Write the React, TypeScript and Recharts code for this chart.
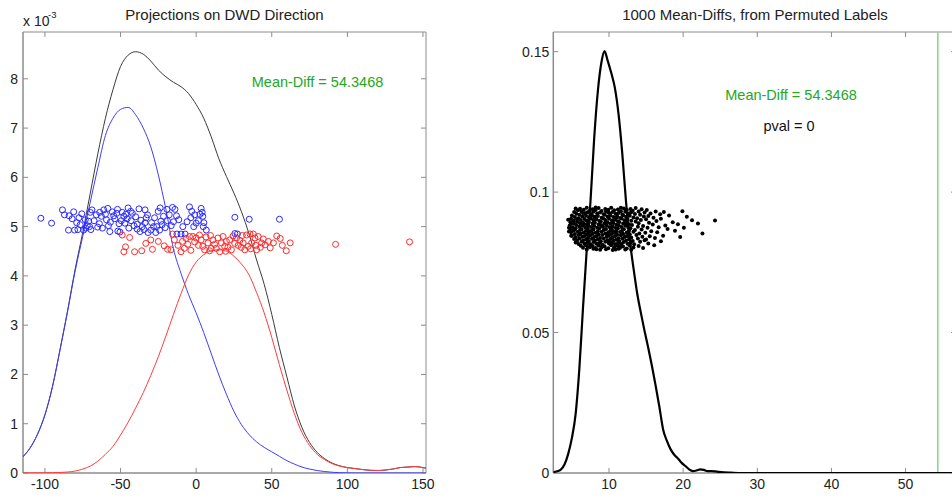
import React from 'react';
import { ComposedChart, Line, Scatter, XAxis, YAxis, ReferenceLine } from 'recharts';

// ---------- Left panel: projections on DWD direction (density in units of 1e-3) ----------
const projGrid = [-114.5, -110, -105, -100, -95, -90, -85, -80, -75, -70, -65, -60, -55, -50, -45, -40, -35, -30, -25, -20, -15, -10, -5, 0, 5, 10, 15, 20, 25, 30, 35, 40, 45, 50, 55, 60, 65, 70, 75, 80, 85, 90, 95, 100, 105, 110, 115, 120, 125, 130, 135, 140, 145, 150, 152];
const blueDensity = [0.33, 0.5, 0.78, 1.18, 1.75, 2.5, 3.28, 4.1, 4.8, 5.5, 6.2, 6.85, 7.2, 7.38, 7.42, 7.27, 7.0, 6.62, 6.05, 5.35, 4.55, 4.05, 3.62, 3.25, 2.85, 2.42, 1.99, 1.6, 1.25, 0.98, 0.78, 0.63, 0.52, 0.43, 0.34, 0.25, 0.18, 0.12, 0.08, 0.05, 0.03, 0.015, 0.006, 0.002, 0, 0, 0, 0, 0, 0, 0, 0, 0, 0, 0];
const redDensity = [0.003, 0.003, 0.004, 0.005, 0.007, 0.01, 0.02, 0.04, 0.08, 0.14, 0.24, 0.38, 0.54, 0.77, 1.03, 1.32, 1.63, 1.98, 2.36, 2.78, 3.22, 3.64, 4.02, 4.28, 4.43, 4.51, 4.53, 4.5, 4.4, 4.24, 4.02, 3.66, 3.25, 2.75, 2.2, 1.68, 1.2, 0.82, 0.56, 0.38, 0.27, 0.19, 0.14, 0.11, 0.09, 0.07, 0.055, 0.05, 0.06, 0.08, 0.11, 0.12, 0.13, 0.11, 0.1];
const totalDensity = [0.33, 0.5, 0.78, 1.18, 1.76, 2.51, 3.3, 4.14, 4.88, 5.68, 6.48, 7.2, 7.78, 8.25, 8.48, 8.55, 8.5, 8.36, 8.18, 8.04, 7.93, 7.84, 7.7, 7.48, 7.2, 6.82, 6.38, 6.02, 5.68, 5.3, 4.85, 4.32, 3.83, 3.22, 2.55, 1.95, 1.36, 0.92, 0.62, 0.42, 0.29, 0.2, 0.145, 0.11, 0.09, 0.07, 0.055, 0.05, 0.06, 0.08, 0.11, 0.12, 0.13, 0.11, 0.1];

const bluePoints: [number, number][] = [
  [-102.7, 5.17], [-95.6, 5.07], [-88.4, 5.34], [-87.1, 5.24], [-84, 5.22], [-84.4, 4.93], [-82, 5.16], [-81, 5.3], [-80.4, 4.93], [-79, 5.08],
  [-78.2, 4.94], [-77.5, 5.18], [-76.7, 5.04], [-75.6, 5.26], [-74.4, 4.93], [-73.3, 5.14], [-73, 4.97], [-72, 5.02], [-71.1, 5.11], [-70.5, 5.0],
  [-70, 5.29], [-69.6, 4.94], [-68.9, 5.34], [-67.5, 5.12], [-66, 5.24], [-65.1, 4.99], [-64, 5.06], [-63.8, 5.29], [-62.7, 5.21], [-62, 4.97],
  [-61.1, 5.34], [-60, 5.25], [-59.3, 5.14], [-58.4, 5.37], [-58, 5.02], [-57.1, 4.9], [-56.7, 5.09], [-55.5, 5.3], [-54.5, 5.22], [-53.8, 5.16],
  [-52.5, 5.27], [-52, 5.35], [-51.8, 4.91], [-51, 5.06], [-50.4, 4.89], [-49.5, 5.12], [-48.9, 5.29], [-47.8, 5.21], [-47.1, 5.07], [-46.5, 5.25],
  [-45.6, 5.16], [-45, 5.38], [-44.5, 4.97], [-43.3, 5.31], [-43, 5.12], [-42.2, 5.27], [-41.1, 5.02], [-40, 5.2], [-39, 4.95], [-38.9, 5.05],
  [-37.8, 5.36], [-37.1, 4.9], [-36.5, 5.13], [-35.6, 5.0], [-34.5, 4.94], [-33.8, 5.08], [-33.8, 5.34], [-33, 5.18], [-32.2, 5.24], [-31.8, 4.88],
  [-30, 4.93], [-29.5, 5.08], [-28.2, 5.0], [-27.5, 5.18], [-26.7, 4.88], [-26, 5.0], [-25.1, 5.31], [-24.2, 4.93], [-23.8, 5.38], [-23.3, 5.11],
  [-22.5, 5.04], [-21.6, 5.21], [-20.5, 4.98], [-19.3, 5.35], [-19, 5.12], [-17.8, 5.24], [-16.5, 5.02], [-15.6, 5.39], [-15, 5.1], [-14, 5.35],
  [-13, 5.22], [-12.7, 4.85], [-11.5, 5.14], [-10, 4.85], [-8.8, 5.0], [-7.3, 4.85], [-6, 5.1], [-4.4, 5.4], [-3.5, 5.18], [-2.9, 5.31],
  [-1.6, 5.0], [-1, 5.24], [0, 5.07], [1.5, 5.12], [2.5, 5.25], [3.3, 5.37], [4, 5.29], [4.4, 5.21], [5.1, 5.08], [4.7, 5.0],
  [6.7, 4.93], [25.6, 5.19], [25.6, 4.86], [27.3, 4.85], [35.1, 5.15], [55.1, 5.15]
];

const redPoints: [number, number][] = [
  [-48.9, 4.83], [-47.8, 4.49], [-46.7, 4.59], [-44, 4.78], [-40.7, 4.49], [-36, 4.51], [-33.3, 4.66], [-30, 4.73], [-28.9, 4.54], [-25, 4.7],
  [-21.1, 4.61], [-18.9, 4.54], [-16.7, 4.53], [-15.6, 4.85], [-14.4, 4.73], [-12, 4.62], [-10, 4.49], [-9, 4.7], [-7.8, 4.56], [-6.7, 4.76],
  [-5.5, 4.64], [-4.4, 4.8], [-3.5, 4.52], [-2.2, 4.8], [-1, 4.69], [0, 4.77], [1.5, 4.62], [2.2, 4.83], [3.3, 4.73], [4.4, 4.6],
  [5.6, 4.53], [6.5, 4.79], [7.8, 4.67], [8.9, 4.51], [9.5, 4.82], [10, 4.56], [11.1, 4.73], [12.2, 4.64], [13.3, 4.56], [14.4, 4.77],
  [15.6, 4.49], [16.7, 4.67], [17.8, 4.8], [18.9, 4.6], [19.5, 4.5], [20, 4.7], [21, 4.58], [22.2, 4.73], [23.3, 4.53], [24.4, 4.81],
  [25.5, 4.66], [26.7, 4.77], [27.8, 4.62], [28.9, 4.72], [29.8, 4.58], [30.5, 4.82], [31.1, 4.67], [32.2, 4.53], [33.3, 4.83], [34.4, 4.6],
  [35.6, 4.85], [36, 4.55], [36.7, 4.67], [37.8, 4.85], [38.9, 4.77], [39.5, 4.62], [40, 4.53], [41, 4.8], [42.5, 4.58], [43.3, 4.67],
  [44.4, 4.75], [45.6, 4.63], [47.8, 4.7], [49, 4.57], [51.1, 4.67], [53.3, 4.81], [55.6, 4.76], [57, 4.62], [59.6, 4.51], [62.2, 4.67],
  [92.2, 4.64], [141.1, 4.69]
];

const leftXTicks = [-100, -50, 0, 50, 100, 150];
const leftYTicks = [0, 1, 2, 3, 4, 5, 6, 7, 8];
const leftXDomain: [number, number] = [-114.5, 152];
const leftYDomain: [number, number] = [0, 8.95];

// ---------- Right panel: 1000 mean-diffs from permuted labels ----------
const permDensity: [number, number][] = [
  [2.49, 0.0003], [3, 0.0006], [3.5, 0.0012], [4, 0.003], [4.5, 0.0068], [5, 0.0125], [5.5, 0.021], [6, 0.037], [6.5, 0.059], [7, 0.0795],
  [7.5, 0.0965], [8, 0.119], [8.5, 0.136], [9, 0.1465], [9.4, 0.1502], [9.8, 0.147], [10.3, 0.1425], [10.8, 0.137], [11.3, 0.1275], [11.8, 0.1135],
  [12.3, 0.0965], [12.8, 0.083], [13.3, 0.073], [13.8, 0.064], [14.3, 0.057], [14.8, 0.0505], [15.3, 0.0445], [15.8, 0.038], [16.3, 0.031], [16.8, 0.0235],
  [17.3, 0.0155], [17.8, 0.0115], [18.3, 0.0085], [18.8, 0.0065], [19.3, 0.0052], [19.8, 0.0036], [20.3, 0.0025], [20.8, 0.0013], [21.3, 0.0007], [21.8, 0.0009],
  [22.3, 0.0013], [22.8, 0.0011], [23.3, 0.0007], [23.8, 0.0007], [24.3, 0.0006], [24.8, 0.0004], [25.5, 0.0002], [26.5, 0.0001], [28, 0], [30, 0],
  [35, 0], [40, 0], [45, 0], [50, 0], [56.8, 0]
];

const permutedDiffs: [number, number][] = [
  [6.1, .0941], [7.0, .0944], [7.8, .0939], [8.6, .0943], [9.5, .0940], [10.3, .0944], [11.2, .0938], [12.0, .0942], [12.9, .0940], [13.6, .0943], [14.4, .0939],
  [5.8, .0935], [6.6, .0937], [7.4, .0934], [8.2, .0936], [9.0, .0933], [9.9, .0937], [10.7, .0935], [11.6, .0932], [12.4, .0936], [13.2, .0934], [15.1, .0936], [16.3, .0931],
  [5.3, .0929], [6.3, .0931], [7.1, .0928], [7.9, .0930], [8.8, .0927], [9.6, .0931], [10.5, .0929], [11.3, .0926], [12.2, .0930], [13.0, .0928], [14.0, .0931], [14.8, .0927], [17.4, .0929], [19.9, .0932],
  [5.6, .0923], [6.8, .0925], [7.6, .0922], [8.4, .0924], [9.3, .0921], [10.1, .0925], [10.9, .0923], [11.8, .0920], [12.7, .0924], [13.5, .0922], [15.6, .0924], [16.9, .0921],
  [5.0, .0917], [6.0, .0919], [6.9, .0916], [7.7, .0918], [8.5, .0915], [9.4, .0919], [10.2, .0917], [11.1, .0914], [11.9, .0918], [12.8, .0916], [14.2, .0919], [15.3, .0915], [18.1, .0917],
  [5.4, .0911], [6.4, .0913], [7.3, .0910], [8.1, .0912], [9.0, .0909], [9.8, .0913], [10.6, .0911], [11.5, .0908], [12.3, .0912], [13.3, .0910], [14.7, .0913], [16.0, .0909], [20.5, .0912],
  [4.9, .0905], [5.9, .0907], [6.7, .0904], [7.5, .0906], [8.3, .0903], [9.2, .0907], [10.0, .0905], [10.8, .0902], [11.7, .0906], [12.5, .0904], [13.8, .0907], [15.0, .0903], [17.0, .0905], [24.3, .0899],
  [4.5, .0902], [5.2, .0899], [6.2, .0901], [7.0, .0898], [7.9, .0900], [8.7, .0897], [9.5, .0901], [10.4, .0899], [11.2, .0896], [12.1, .0900], [13.0, .0898], [14.3, .0901], [16.4, .0897], [21.2, .0900],
  [4.8, .0893], [5.7, .0895], [6.5, .0892], [7.3, .0894], [8.1, .0891], [8.9, .0895], [9.8, .0893], [10.6, .0890], [11.4, .0894], [12.3, .0892], [13.6, .0895], [15.4, .0891], [18.6, .0893],
  [5.3, .0887], [6.1, .0889], [7.0, .0886], [7.8, .0888], [8.6, .0885], [9.4, .0889], [10.2, .0887], [11.0, .0884], [11.9, .0888], [12.7, .0886], [14.0, .0889], [15.9, .0885], [19.3, .0886], [22.0, .0888],
  [4.7, .0881], [5.6, .0883], [6.4, .0880], [7.2, .0882], [8.0, .0879], [8.9, .0883], [9.7, .0881], [10.5, .0878], [11.3, .0882], [12.2, .0880], [13.1, .0883], [14.6, .0879], [17.6, .0881],
  [5.1, .0875], [6.0, .0877], [6.8, .0874], [7.6, .0876], [8.4, .0873], [9.2, .0877], [10.1, .0875], [10.9, .0872], [11.7, .0876], [12.6, .0874], [13.9, .0877], [15.2, .0873], [16.7, .0875], [20.1, .0873], [4.6, .0873],
  [4.8, .0869], [5.5, .0871], [6.3, .0868], [7.1, .0870], [7.9, .0867], [8.7, .0871], [9.6, .0869], [10.4, .0866], [11.2, .0870], [12.0, .0868], [12.9, .0871], [14.4, .0867], [17.9, .0869],
  [5.2, .0863], [6.1, .0865], [6.9, .0862], [7.7, .0864], [8.5, .0861], [9.3, .0865], [10.2, .0863], [11.0, .0860], [11.8, .0864], [12.7, .0862], [13.5, .0865], [15.7, .0861], [18.9, .0862],
  [4.9, .0857], [5.8, .0859], [6.6, .0856], [7.4, .0858], [8.2, .0855], [9.0, .0859], [9.9, .0857], [10.7, .0854], [11.5, .0858], [12.4, .0856], [13.3, .0859], [14.9, .0855], [16.5, .0857], [22.6, .0853],
  [5.4, .0851], [6.2, .0853], [7.0, .0850], [7.8, .0852], [8.6, .0849], [9.5, .0853], [10.3, .0851], [11.1, .0848], [11.9, .0852], [12.8, .0850], [14.1, .0853],
  [5.0, .0845], [5.9, .0847], [6.7, .0844], [7.5, .0846], [8.3, .0843], [9.1, .0847], [10.0, .0845], [10.8, .0842], [11.6, .0846], [12.5, .0844], [13.7, .0847], [15.5, .0843], [17.3, .0845], [4.9, .0845],
  [5.5, .0839], [6.4, .0841], [7.2, .0838], [8.0, .0840], [8.8, .0837], [9.7, .0841], [10.5, .0839], [11.3, .0836], [12.1, .0840], [13.0, .0838], [14.5, .0841], [16.2, .0837], [19.6, .0840],
  [5.3, .0833], [6.0, .0835], [6.9, .0832], [7.7, .0834], [8.5, .0831], [9.3, .0835], [10.2, .0833], [11.0, .0830], [11.8, .0834], [12.7, .0832], [13.9, .0835], [15.0, .0831],
  [5.7, .0827], [6.5, .0829], [7.3, .0826], [8.1, .0828], [8.9, .0825], [9.8, .0829], [10.6, .0827], [11.4, .0824], [12.3, .0828], [13.2, .0826], [14.8, .0829], [17.0, .0825],
  [5.5, .0821], [6.3, .0823], [7.1, .0820], [7.9, .0822], [8.7, .0819], [9.5, .0823], [10.4, .0821], [11.2, .0818], [12.0, .0822], [12.9, .0820], [14.2, .0823],
  [5.9, .0815], [6.7, .0817], [7.5, .0814], [8.3, .0816], [9.1, .0813], [10.0, .0817], [10.8, .0815], [11.6, .0812], [12.5, .0816], [13.4, .0814], [15.3, .0817],
  [6.2, .0809], [7.0, .0811], [7.8, .0808], [8.6, .0810], [9.4, .0807], [10.3, .0811], [11.1, .0809], [11.9, .0806], [12.8, .0810], [14.0, .0808], [16.1, .0811],
  [6.5, .0802], [7.4, .0804], [8.2, .0801], [9.0, .0803], [9.9, .0800], [10.7, .0804], [11.5, .0802], [12.4, .0799], [13.3, .0803], [14.6, .0801],
  [7.0, .0796], [7.9, .0798], [8.8, .0795], [9.6, .0797], [10.5, .0794], [11.3, .0798], [12.2, .0796], [13.0, .0795],
  [5.5, .0942], [8.2, .0945], [11.6, .0944], [6.5, .0926], [9.9, .0928], [12.6, .0918], [5.7, .0903], [8.0, .0908], [11.0, .0909],
  [6.6, .0885], [9.1, .0879], [12.5, .0883], [5.4, .0866], [7.3, .0861], [10.6, .0859], [6.0, .0850], [9.8, .0848], [12.2, .0843],
  [7.0, .0830], [10.0, .0822], [6.8, .0812], [9.0, .0805], [11.7, .0815], [8.3, .0797], [10.9, .0796], [4.9, .0888], [4.6, .0860]
];

const rightXTicks = [10, 20, 30, 40, 50];
const rightYTicks = [0, 0.05, 0.1, 0.15];
const rightXDomain: [number, number] = [2.49, 56.8];
const rightYDomain: [number, number] = [0, 0.157];

const meanDiff = 54.3468;
const pval = 0;

const leftTitle = 'Projections on DWD Direction';
const rightTitle = '1000 Mean-Diffs, from Permuted Labels';

// ---------- build tables ----------
const projTable = projGrid.map((x, i) => ({ x, blue: blueDensity[i], red: redDensity[i], total: totalDensity[i] }));
const blueRows = bluePoints.map(([x, y]) => ({ x, y }));
const redRows = redPoints.map(([x, y]) => ({ x, y }));
const permRows = permDensity.map(([x, d]) => ({ x, d }));
const diffRows = permutedDiffs.map(([x, y]) => ({ x, y }));

const FONT = 'Liberation Sans, Arial, Helvetica, sans-serif';
const FRAME = '#8c8c8c';
const tickStyle = { fill: '#222', fontSize: 14, fontFamily: FONT };

const blueCircle = (p: any) => <circle cx={p.cx} cy={p.cy} r={3} fill="none" stroke="#2a2aff" strokeWidth={1} />;
const redCircle = (p: any) => <circle cx={p.cx} cy={p.cy} r={3} fill="none" stroke="#ff2a2a" strokeWidth={1} />;
const blackDot = (p: any) => <circle cx={p.cx} cy={p.cy} r={2} fill="#000" />;

// MATLAB-like box with inward ticks on all four sides (tick lengths given in data units ~ 5px)
function boxLines(xd: [number, number], yd: [number, number], xt: number[], yt: number[], dx: number, dy: number, prefix: string) {
  const els: any[] = [];
  els.push(<ReferenceLine key={prefix + 'b'} y={yd[0]} stroke={FRAME} strokeWidth={1.5} />);
  els.push(<ReferenceLine key={prefix + 't'} y={yd[1]} stroke={FRAME} strokeWidth={1} />);
  els.push(<ReferenceLine key={prefix + 'l'} x={xd[0]} stroke={FRAME} strokeWidth={1.5} />);
  els.push(<ReferenceLine key={prefix + 'r'} x={xd[1]} stroke={FRAME} strokeWidth={1} />);
  xt.forEach((v) => {
    els.push(<ReferenceLine key={prefix + 'xb' + v} segment={[{ x: v, y: yd[0] }, { x: v, y: yd[0] + dy }]} stroke={FRAME} strokeWidth={1} />);
    els.push(<ReferenceLine key={prefix + 'xt' + v} segment={[{ x: v, y: yd[1] }, { x: v, y: yd[1] - dy }]} stroke={FRAME} strokeWidth={1} />);
  });
  yt.forEach((v) => {
    els.push(<ReferenceLine key={prefix + 'yl' + v} segment={[{ x: xd[0], y: v }, { x: xd[0] + dx, y: v }]} stroke={FRAME} strokeWidth={1} />);
    els.push(<ReferenceLine key={prefix + 'yr' + v} segment={[{ x: xd[1], y: v }, { x: xd[1] - dx, y: v }]} stroke={FRAME} strokeWidth={1} />);
  });
  return els;
}

export default function App() {
  return (
    <div style={{ position: 'absolute', left: 0, top: 0, width: 952, height: 500, overflow: 'hidden', background: '#fff' }}>
      <div style={{ position: 'absolute', left: 0, top: 0 }}>
        <ComposedChart width={440} height={500} margin={{ top: 32, right: 14, bottom: 0, left: 0 }}>
          <XAxis type="number" dataKey="x" domain={leftXDomain} ticks={leftXTicks} allowDataOverflow interval={0}
            height={27} tickSize={0} tickMargin={6} axisLine={false} tickLine={false} tick={tickStyle} />
          <YAxis type="number" dataKey="y" domain={leftYDomain} ticks={leftYTicks} allowDataOverflow interval={0}
            width={23} tickSize={0} tickMargin={5} axisLine={false} tickLine={false} tick={tickStyle} />
          {boxLines(leftXDomain, leftYDomain, leftXTicks, leftYTicks, 3.3, 0.1, 'L')}
          <Line data={projTable} dataKey="total" type="monotone" stroke="#3a3a3a" strokeWidth={1} dot={false} isAnimationActive={false} />
          <Line data={projTable} dataKey="blue" type="monotone" stroke="#3c3cff" strokeWidth={1} dot={false} isAnimationActive={false} />
          <Line data={projTable} dataKey="red" type="monotone" stroke="#ff3c3c" strokeWidth={1} dot={false} isAnimationActive={false} />
          <Scatter data={blueRows} shape={blueCircle} isAnimationActive={false} />
          <Scatter data={redRows} shape={redCircle} isAnimationActive={false} />
        </ComposedChart>
      </div>
      <div style={{ position: 'absolute', left: 500, top: 0 }}>
        <ComposedChart width={470} height={500} margin={{ top: 32, right: 14, bottom: 0, left: 0 }}>
          <XAxis type="number" dataKey="x" domain={rightXDomain} ticks={rightXTicks} allowDataOverflow interval={0}
            height={27} tickSize={0} tickMargin={6} axisLine={false} tickLine={false} tick={tickStyle} />
          <YAxis type="number" dataKey="y" domain={rightYDomain} ticks={rightYTicks} allowDataOverflow interval={0}
            width={53.3} tickSize={0} tickMargin={4} axisLine={false} tickLine={false} tick={tickStyle} />
          {boxLines(rightXDomain, rightYDomain, rightXTicks, rightYTicks, 0.67, 0.0018, 'R')}
          <ReferenceLine x={meanDiff} stroke="#86d486" strokeWidth={1.5} />
          <Scatter data={diffRows} shape={blackDot} isAnimationActive={false} />
          <Line data={permRows} dataKey="d" type="monotone" stroke="#000" strokeWidth={2.2} dot={false} isAnimationActive={false} />
        </ComposedChart>
      </div>
      <svg width={952} height={500} style={{ position: 'absolute', left: 0, top: 0, pointerEvents: 'none' }}>
        <g fontFamily={FONT}>
          <text x={224.5} y={20} textAnchor="middle" fontSize={15} fill="#222">{leftTitle}</text>
          <text x={755} y={20} textAnchor="middle" fontSize={15} fill="#222">{rightTitle}</text>
          <text x={23} y={26} fontSize={14} fill="#222">x 10</text>
          <text x={48} y={18} fontSize={9.5} fill="#222">-3</text>
          <text x={317.5} y={87} textAnchor="middle" fontSize={14.5} fill="#22a822">{`Mean-Diff = ${meanDiff}`}</text>
          <text x={791} y={99.5} textAnchor="middle" fontSize={14.5} fill="#22a822">{`Mean-Diff = ${meanDiff}`}</text>
          <text x={789} y={131} textAnchor="middle" fontSize={14.5} fill="#111">{`pval = ${pval}`}</text>
        </g>
      </svg>
    </div>
  );
}
